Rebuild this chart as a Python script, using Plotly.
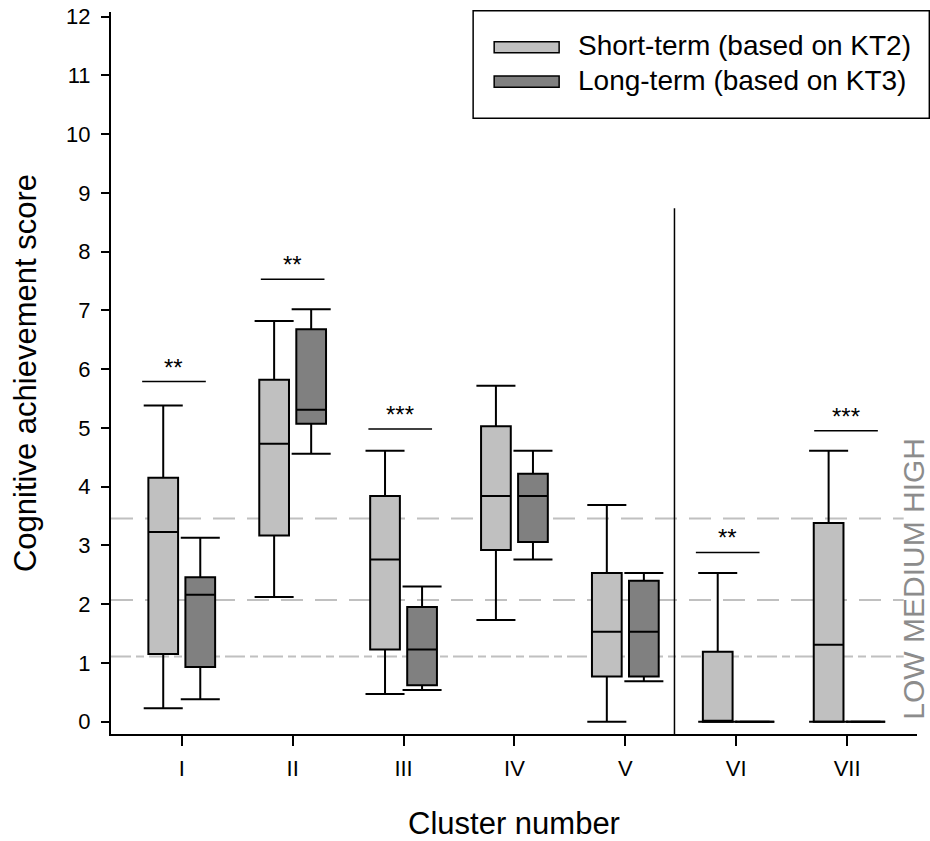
import plotly.graph_objects as go

# ---------------- data ----------------
clusters = ["I", "II", "III", "IV", "V", "VI", "VII"]
positions = [1, 2, 3, 4, 5, 6, 7]

short_lower = [0.23, 2.12, 0.47, 1.73, 0.00, 0.00, 0.00]
short_q1 = [1.15, 3.17, 1.23, 2.92, 0.77, 0.00, 0.00]
short_median = [3.23, 4.73, 2.76, 3.84, 1.53, 0.00, 1.31]
short_q3 = [4.15, 5.82, 3.84, 5.03, 2.53, 1.19, 3.38]
short_upper = [5.38, 6.82, 4.61, 5.72, 3.69, 2.53, 4.61]

long_lower = [0.38, 4.56, 0.54, 2.76, 0.69, 0.00, 0.00]
long_q1 = [0.93, 5.07, 0.62, 3.06, 0.77, 0.00, 0.00]
long_median = [2.16, 5.31, 1.23, 3.84, 1.53, 0.00, 0.00]
long_q3 = [2.46, 6.68, 1.95, 4.22, 2.40, 0.00, 0.00]
long_upper = [3.13, 7.02, 2.30, 4.61, 2.53, 0.00, 0.00]

sig_labels = ["**", "**", "***", "", "", "**", "***"]
sig_levels = [5.79, 7.53, 4.98, None, None, 2.88, 4.95]
sig_center_shift = [-0.07, 0.0, -0.03, 0.0, 0.0, -0.077, -0.01]

band_levels = [1.11, 2.07, 3.46]
band_dashes = ["20px,5px,8px,5px", "22px,12px", "22px,12px"]
separator_x = 5.443
separator_top = 8.74

series_names = ["Short-term (based on KT2)", "Long-term (based on KT3)"]
series_colors = ["#c0c0c0", "#808080"]

y_ticks = list(range(0, 13))

# ---------------- geometry/style ----------------
OFF = 0.167
BOX_W = 0.268
CAP_HALF = 0.176
SIG_HALF = 0.287
X_RANGE = [0.362, 7.63]
Y_RANGE = [-0.21, 12.08]
FONT = "Liberation Sans, Arial, sans-serif"

fig = go.Figure()

series = [
    (short_lower, short_q1, short_median, short_q3, short_upper, -OFF, series_colors[0], series_names[0]),
    (long_lower, long_q1, long_median, long_q3, long_upper, +OFF, series_colors[1], series_names[1]),
]

for lo, q1, med, q3, up, off, col, name in series:
    xs = [p + off for p in positions]
    fig.add_trace(go.Box(
        x=xs, q1=q1, median=med, q3=q3, lowerfence=lo, upperfence=up,
        width=BOX_W, fillcolor=col, line=dict(color="black", width=2),
        whiskerwidth=0, boxpoints=False, name=name, showlegend=False,
    ))
    cx, cy = [], []
    for x, a, b in zip(xs, lo, up):
        for v in (a, b):
            cx += [x - CAP_HALF, x + CAP_HALF, None]
            cy += [v, v, None]
    fig.add_trace(go.Scatter(x=cx, y=cy, mode="lines",
                             line=dict(color="black", width=2),
                             showlegend=False, hoverinfo="skip"))

shapes = []
annotations = []

# band lines
for lvl, d in zip(band_levels, band_dashes):
    shapes.append(dict(type="line", xref="x", yref="y", x0=X_RANGE[0], x1=7.51,
                       y0=lvl, y1=lvl, layer="below",
                       line=dict(color="#c0c0c0", width=2, dash=d)))

# separator
shapes.append(dict(type="line", xref="x", yref="y", x0=separator_x, x1=separator_x,
                   y0=Y_RANGE[0], y1=separator_top, line=dict(color="black", width=1.5)))

# significance
for p, lab, lvl, sh in zip(positions, sig_labels, sig_levels, sig_center_shift):
    if not lab:
        continue
    c = p + sh
    shapes.append(dict(type="line", xref="x", yref="y", x0=c - SIG_HALF, x1=c + SIG_HALF,
                       y0=lvl, y1=lvl, line=dict(color="black", width=1.5)))
    annotations.append(dict(x=c, y=lvl, xref="x", yref="y", text=lab, showarrow=False,
                            yanchor="bottom", yshift=-1,
                            font=dict(family=FONT, size=24, color="black")))

# LOW MEDIUM HIGH
annotations.append(dict(x=X_RANGE[1], y=0, xref="x", yref="y", text="LOW MEDIUM HIGH",
                        textangle=-90, showarrow=False, xanchor="center", yanchor="bottom",
                        xshift=-3,
                        font=dict(family=FONT, size=30, color="#8c8c8c")))

# custom legend
shapes.append(dict(type="rect", xref="paper", yref="paper", x0=0.4493, x1=1.0153,
                   y0=0.853, y1=1.0018, line=dict(color="black", width=1.5),
                   fillcolor="white", layer="above"))
leg_rows = [(0.9589, 0.9436, 0.9535), (0.9114, 0.8957, 0.9050)]
for (ya, yb, yt), col, name in zip(leg_rows, series_colors, series_names):
    shapes.append(dict(type="rect", xref="paper", yref="paper", x0=0.4754, x1=0.5560,
                       y0=yb, y1=ya, line=dict(color="black", width=1.5), fillcolor=col))
    annotations.append(dict(x=0.5771, y=yt, xref="paper", yref="paper", text=name,
                            showarrow=False, xanchor="left", yanchor="middle",
                            font=dict(family=FONT, size=28, color="black")))

fig.update_layout(
    width=930, height=841,
    margin=dict(l=111, r=13, t=12, b=107),
    paper_bgcolor="white", plot_bgcolor="white",
    showlegend=False,
    shapes=shapes, annotations=annotations,
    font=dict(family=FONT, color="black"),
)
fig.update_xaxes(
    range=X_RANGE, tickmode="array", tickvals=positions, ticktext=clusters,
    ticks="outside", ticklen=10, tickwidth=2, tickcolor="black",
    showline=True, linecolor="black", linewidth=2, showgrid=False, zeroline=False,
    tickfont=dict(family=FONT, size=22), ticklabelstandoff=4, automargin=False,
    title=dict(text="Cluster number", font=dict(family=FONT, size=31), standoff=36),
)
fig.update_yaxes(
    range=Y_RANGE, tickmode="array", tickvals=y_ticks,
    ticks="outside", ticklen=8, tickwidth=2, tickcolor="black",
    showline=True, linecolor="black", linewidth=2, showgrid=False, zeroline=False,
    tickfont=dict(family=FONT, size=22), ticklabelstandoff=6, automargin=False,
    title=dict(text="Cognitive achievement score", font=dict(family=FONT, size=31), standoff=20),
)

fig.write_html("out.html")
